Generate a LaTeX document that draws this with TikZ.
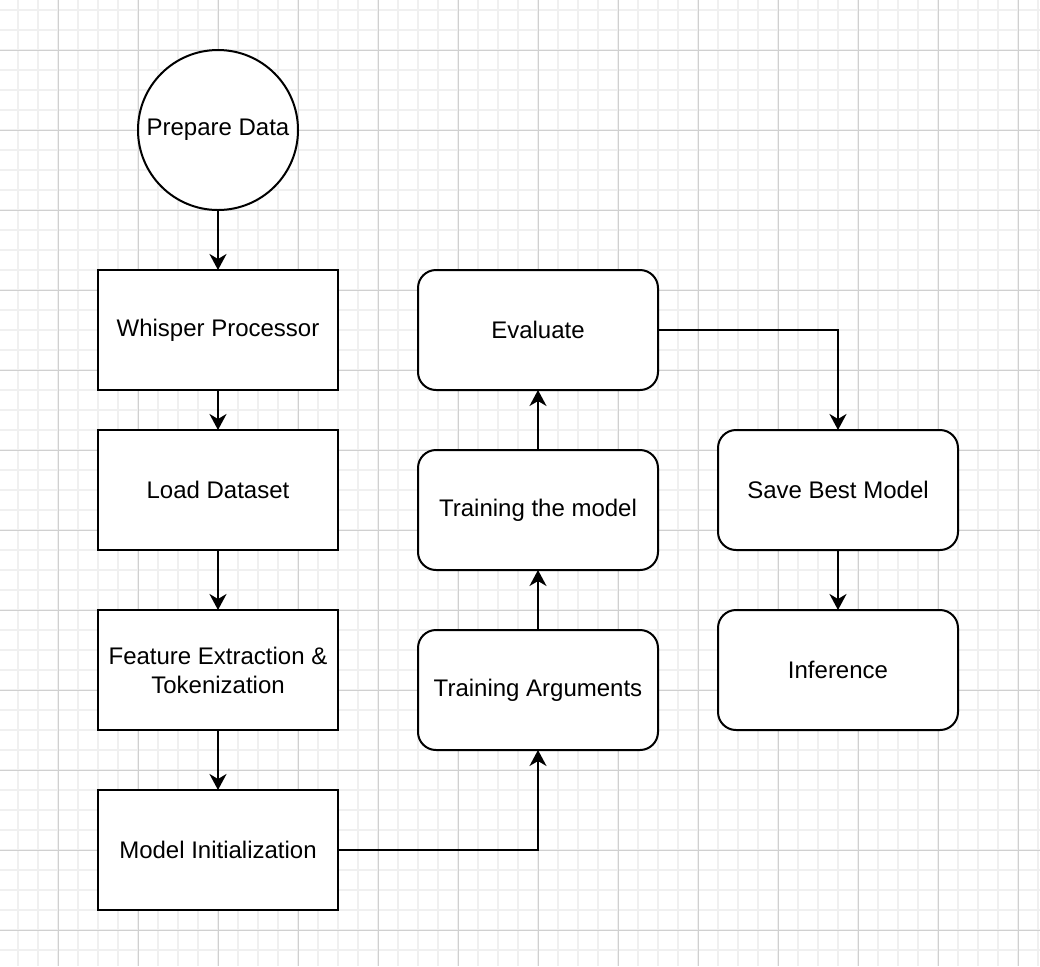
\documentclass[tikz,border=0pt]{standalone}
\usepackage{fontspec}
\setmainfont{Liberation Sans}
\usepackage{tikz}
\usetikzlibrary{positioning,arrows.meta}
\definecolor{gridmin}{HTML}{F0F0F0}
\definecolor{gridmaj}{HTML}{D0D0D0}

\begin{document}
\begin{tikzpicture}[x=0.5pt,y=-0.5pt,
   font=\fontsize{12}{14.5}\selectfont,
   box/.style={draw,line width=1pt,minimum width=120pt,minimum height=60pt,
              align=center,fill=white,outer sep=0pt},
   rbox/.style={box,rounded corners=9pt},
   start/.style={draw,circle,line width=1pt,minimum size=80pt,fill=white,outer sep=0pt},
   line width=1pt,>={Stealth[length=8pt,width=8.5pt,inset=2.5pt]},
   node distance=20pt,
]
% ----- page and grid
\useasboundingbox (0,0) rectangle (1040,966);
\fill[white] (0,0) rectangle (1040,966);
\begin{scope}
\clip (0,0) rectangle (1040,966);
\foreach \x in {18,38,...,1038} \draw[gridmin,line width=1pt] (\x,0) -- (\x,966);
\foreach \y in {10,30,...,966} \draw[gridmin,line width=1pt] (0,\y) -- (1040,\y);
\foreach \x in {58,138,...,1018} \draw[gridmaj,line width=0.5pt] (\x,0) -- (\x,966);
\foreach \y in {50,130,...,930} \draw[gridmaj,line width=0.5pt] (0,\y) -- (1040,\y);
\end{scope}

% ----- left column: data side
\node[start] (prep) at (218,130) {Prepare Data};
\node[box] (whisp) at (218,330) {Whisper Processor};
\node[box,below=of whisp] (load) {Load Dataset};
\node[box,below=30pt of load] (feat) {Feature Extraction \&\\ Tokenization};
\node[box,below=30pt of feat] (minit) {Model Initialization};

% ----- middle column: training
\node[rbox] (targs) at (538,690) {Training Arguments};
\node[rbox,above=30pt of targs] (train) {Training the model};
\node[rbox,above=30pt of train] (eval) {Evaluate};

% ----- right column
\node[rbox] (save) at (838,490) {Save Best Model};
\node[rbox,below=30pt of save] (infer) {Inference};

% wires
\draw[->] (prep) -- (whisp);
\draw[->] (whisp) -- (load);
\draw[->] (load) -- (feat);
\draw[->] (feat) -- (minit);
\draw[->] (minit.east) -| (targs.south);
\draw[->] (targs) -- (train);
\draw[->] (train) -- (eval);
\draw[->] (eval.east) -| (save.north);
\draw[->] (save) -- (infer);
\end{tikzpicture}
\end{document}
